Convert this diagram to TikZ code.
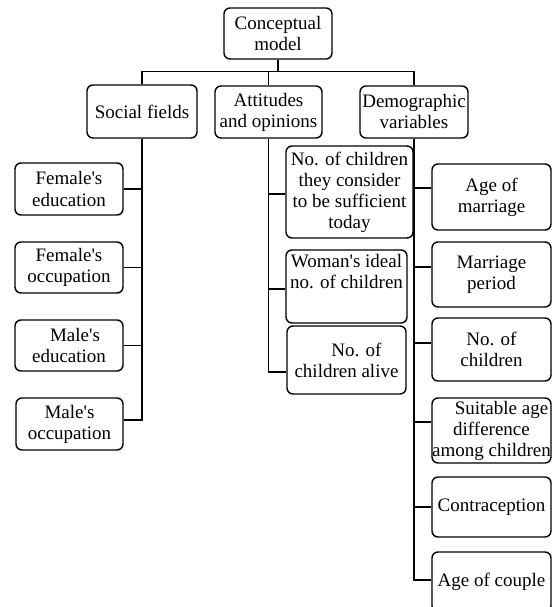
\documentclass[tikz,border=0pt]{standalone}
\usepackage{fontspec}
\setmainfont{Liberation Serif}[Ligatures=TeXOff]
\begin{document}
\begin{tikzpicture}[x=1pt,y=-1pt,
  box/.style={draw, line width=1.4pt, rounded corners=6pt, align=center, inner sep=0pt,
    font=\fontsize{19}{21}\selectfont},
  link/.style={line width=1.2pt}]
\useasboundingbox (0,0) rectangle (552,607);
\clip (0,0) rectangle (552,607);
% top level
\node[box, minimum width=108pt, minimum height=51pt] (cm) at (278,33.5) {Conceptual\\model};
\node[box, minimum width=110pt, minimum height=53pt] (sf) at (142,111.5) {Social fields};
\node[box, minimum width=107pt, minimum height=52pt] (ao) at (268.5,112) {Attitudes\\and opinions};
\node[box, minimum width=108pt, minimum height=52pt] (dv) at (414,112) {Demographic\\variables};
% social fields children
\node[box, minimum width=108pt, minimum height=52pt] (fe) at (69,189) {Female's\\education};
\node[box, minimum width=108pt, minimum height=51pt] (fo) at (69,267.5) {Female's\\occupation};
\node[box, minimum width=108pt, minimum height=51pt] (me) at (69,345.5) {\hspace*{12pt}Male's\\education};
\node[box, minimum width=107pt, minimum height=52pt] (mo) at (69.5,424) {Male's\\occupation};
% attitudes children
\node[box, minimum width=127pt, minimum height=92pt] (a1) at (349.5,192) {No. of children\\they consider\\to be sufficient\\today};
\node[box, minimum width=121pt, minimum height=73pt] (a2) at (346.5,286.5) {Woman's ideal\\no. of children\\[10pt]};
\node[box, minimum width=119pt, minimum height=68pt] (a3) at (346.5,360) {\hspace*{20pt}No. of\\children alive};
% demographic children
\node[box, minimum width=119pt, minimum height=66pt] (d1) at (491.5,197) {Age of\\marriage};
\node[box, minimum width=119pt, minimum height=65pt] (d2) at (491.5,274.5) {Marriage\\period};
\node[box, minimum width=119pt, minimum height=63pt] (d3) at (491.5,349.5) {No. of\\children};
\node[box, minimum width=119pt, minimum height=65pt] (d4) at (491.5,430.5) {\hspace*{20pt}Suitable age\\difference\hspace*{16pt}\\among children};
\node[box, minimum width=119pt, minimum height=60pt] (d5) at (491.5,507) {Contraception};
\node[box, minimum width=119pt, minimum height=60pt] (d6) at (491.5,582) {Age of couple};
% top bus
\coordinate (bus) at ([yshift=-12pt]cm.south);
\draw[link] (cm.south) -- (bus);
\draw[link] (sf.north) |- (bus -| dv.north) -- (dv.north);
\draw[link] (ao.north) -- (ao.north |- bus);
% social fields trunk
\coordinate (s4) at ([yshift=4pt]mo.east);
\draw[link] (sf.south) |- (s4);
\draw[link] (fe.east) -- (sf.south |- fe.east);
\draw[link] (fo.east) -- (sf.south |- fo.east);
\draw[link] (me.east) -- (sf.south |- me.east);
% attitudes trunk
\coordinate (t1) at ([yshift=-2pt]a1.west);
\coordinate (t2) at ([yshift=-2.5pt]a2.west);
\coordinate (t3) at ([yshift=-12pt]a3.west);
\draw[link] (ao.south) |- (t3);
\draw[link] (t1) -- (ao.south |- t1);
\draw[link] (t2) -- (ao.south |- t2);
% demographic trunk
\coordinate (u1) at ([yshift=9pt]d1.west);
\coordinate (u2) at ([yshift=7.5pt]d2.west);
\coordinate (u3) at ([yshift=6.5pt]d3.west);
\coordinate (u4) at ([yshift=8.5pt]d4.west);
\coordinate (u6) at ([yshift=2pt]d6.west);
\draw[link] (dv.south) |- (u6);
\draw[link] (u1) -- (dv.south |- u1);
\draw[link] (u2) -- (dv.south |- u2);
\draw[link] (u3) -- (dv.south |- u3);
\draw[link] (u4) -- (dv.south |- u4);
\draw[link] (d5.west) -- (dv.south |- d5.west);
\end{tikzpicture}
\end{document}
